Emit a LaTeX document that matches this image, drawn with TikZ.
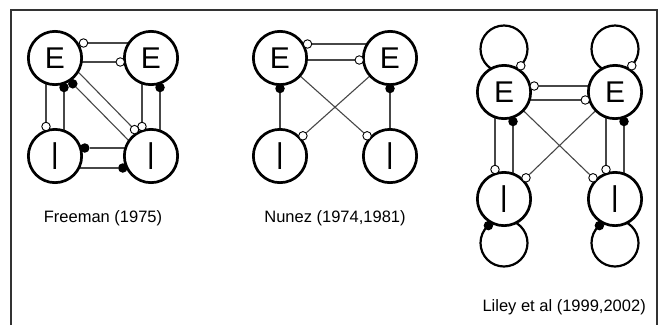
\documentclass[tikz,border=0pt]{standalone}
\usepackage{fontspec}
\setmainfont{Liberation Sans}
\pgfdeclarelayer{bg}
\pgfsetlayers{bg,main}
\tikzset{
  unit/.style={circle, draw=black, line width=2.7pt, fill=white, minimum size=53.3pt, inner sep=0pt, font=\fontsize{30}{30}\selectfont},
  omark/.style={circle, draw=black, line width=0.9pt, fill=white, minimum size=8.5pt, inner sep=0pt},
  fmark/.style={circle, fill=black, minimum size=9.5pt, inner sep=0pt},
  conn/.style={draw=black!72, line width=1.1pt},
  loopc/.style={draw=black, line width=2.2pt},
  lbl/.style={font=\fontsize{16.5}{18}\selectfont, inner sep=0pt},
  frame/.style={draw=black!80, line width=1.3pt}
}
\newcommand{\Ilet}{\scalebox{0.9}[1.3]{I}}
\begin{document}
\begin{tikzpicture}[x=1pt, y=-1pt]
\useasboundingbox (0,0) rectangle (661,325);
\draw[frame] (11,325) -- (11,10) -- (657,10) -- (657,325);

% ---------------- Freeman ----------------
\node[unit] (FE1) at (55,58) {E};
\node[unit] (FE2) at (151,58) {E};
\node[unit] (FI1) at (55,156) {\Ilet};
\node[unit] (FI2) at (151,156) {\Ilet};
\node[omark] (fa) at (83.5,43) {};
\node[omark] (fb) at (120.3,62) {};
\node[omark] (fc) at (46,126.5) {};
\node[fmark] (fd) at (64,87.5) {};
\node[omark] (fe) at (142,126.5) {};
\node[fmark] (ff) at (160,87.5) {};
\node[fmark] (fg) at (84.8,148) {};
\node[fmark] (fh) at (122.8,168) {};
\node[omark] (fi) at (134.5,129.6) {};
\node[fmark] (fj) at (72.8,83.8) {};
\coordinate (fiend) at (67,60.5);
\coordinate (fjend) at (139.5,151.5);
\begin{pgfonlayer}{bg}
\draw[conn] (fa) -- (fa -| FE2);
\draw[conn] (fb) -- (fb -| FE1);
\draw[conn] (fc) -- (fc |- FE1);
\draw[conn] (fd) -- (fd |- FI1);
\draw[conn] (fe) -- (fe |- FE2);
\draw[conn] (ff) -- (ff |- FI2);
\draw[conn] (fg) -- (fg -| FI2);
\draw[conn] (fh) -- (fh -| FI1);
\draw[conn] (fi) -- (fiend);
\draw[conn] (fj) -- (fjend);
\end{pgfonlayer}
\node[lbl] (flab) at (103,218.5) {Freeman (1975)};

% ---------------- Nunez ----------------
\node[unit] (NE1) at (280,58) {E};
\node[unit] (NE2) at (390,58) {E};
\node[unit] (NI1) at (280,156) {\Ilet};
\node[unit] (NI2) at (390,156) {\Ilet};
\node[omark] (na) at (307.5,44) {};
\node[omark] (nb) at (359.3,60) {};
\node[fmark] (nc) at (280,88.5) {};
\node[fmark] (nd) at (390,88.5) {};
\node[omark] (ne) at (367.1,135.8) {};
\node[omark] (nf) at (302.9,135.8) {};
\begin{pgfonlayer}{bg}
\draw[conn] (na) -- (na -| NE2);
\draw[conn] (nb) -- (nb -| NE1);
\draw[conn] (nc) -- (NI1);
\draw[conn] (nd) -- (NI2);
\draw[conn] (NE1.center) -- (ne);
\draw[conn] (NE2.center) -- (nf);
\end{pgfonlayer}
\node[lbl] (nlab) at (335,218.5) {Nunez (1974,1981)};

% ---------------- Liley ----------------
\node[unit] (LE1) at (504,92) {E};
\node[unit] (LE2) at (615,92) {E};
\node[unit] (LI1) at (504,199) {\Ilet};
\node[unit] (LI2) at (615,199) {\Ilet};
\coordinate (lt1) at (504,49);
\coordinate (lt2) at (615,49);
\coordinate (lb1) at (504,243);
\coordinate (lb2) at (615,243);
\node[omark] (la1) at (520.8,65.8) {};
\node[omark] (la2) at (631.8,65.8) {};
\node[fmark] (lz1) at (488.4,225.6) {};
\node[fmark] (lz2) at (599.4,225.6) {};
\node[omark] (lb) at (534.2,86) {};
\node[omark] (lc) at (585.3,100) {};
\node[omark] (ld) at (495,169.5) {};
\node[fmark] (le) at (513,121.5) {};
\node[omark] (lf) at (606,169.5) {};
\node[fmark] (lg) at (624,121.5) {};
\node[omark] (lh) at (593,177.8) {};
\node[omark] (li) at (526,177.8) {};
\begin{pgfonlayer}{bg}
\draw[loopc] (lt1) circle[radius=23.5];
\draw[loopc] (lt2) circle[radius=23.5];
\draw[loopc] (lb1) circle[radius=23.5];
\draw[loopc] (lb2) circle[radius=23.5];
\draw[conn] (lb) -- (lb -| LE2);
\draw[conn] (lc) -- (lc -| LE1);
\draw[conn] (ld) -- (ld |- LE1);
\draw[conn] (le) -- (le |- LI1);
\draw[conn] (lf) -- (lf |- LE2);
\draw[conn] (lg) -- (lg |- LI2);
\draw[conn] (LE1.center) -- (lh);
\draw[conn] (LE2.center) -- (li);
\end{pgfonlayer}
\node[lbl, anchor=east] (llab) at (646,307.5) {Liley et al (1999,2002)};
\end{tikzpicture}
\end{document}
